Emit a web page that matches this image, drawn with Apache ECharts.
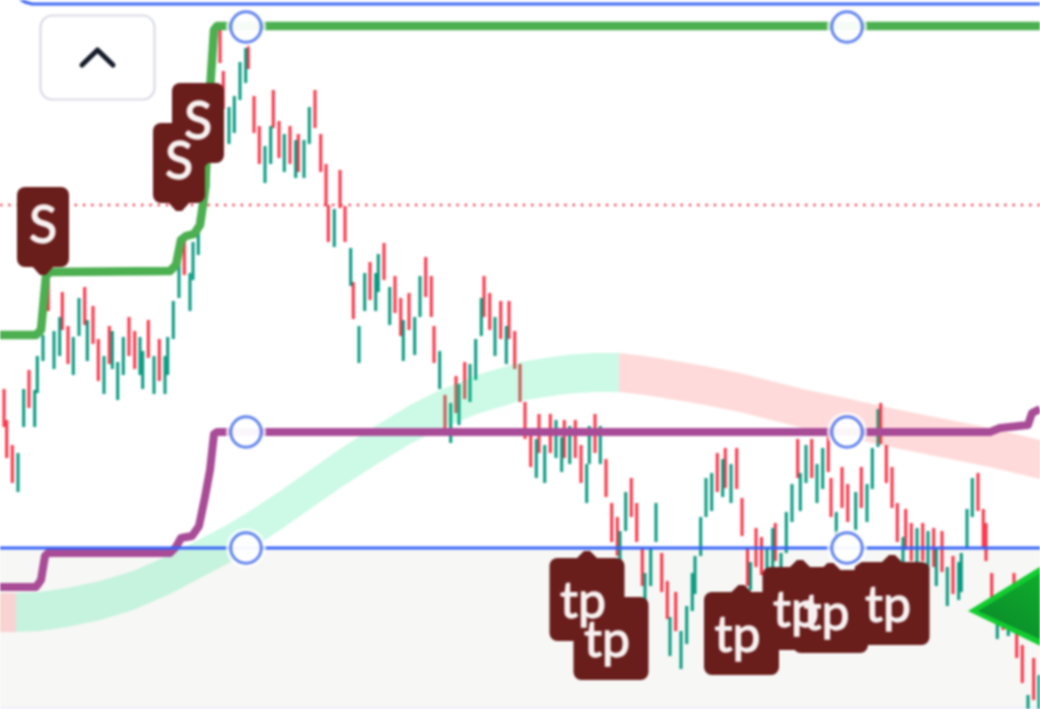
<!DOCTYPE html>
<html><head><meta charset="utf-8">
<style>html,body{margin:0;padding:0;background:#fff;overflow:hidden}#c{width:1040px;height:709px;filter:blur(1px)}</style>
<script src="https://cdn.jsdelivr.net/npm/echarts@6/dist/echarts.min.js"></script>
</head><body><div id="c"></div>
<script>
// Each candle row: time, top of range, bottom of range (axis runs downward, as in the picture)
const downBars=[[4,389,427],[6.7,420,458],[12.3,445,483],[29,370,408],[48.3,277,311],[62.3,292,330],[68,326,364],[84.7,287,325],[93,306,344],[98.3,339,381],[109.3,326,364],[129,317,356],[134.7,331,369],[148.3,320,358],[159.3,339,381],[184.3,240,275],[220,28,63],[223.3,71,109],[248.3,45,69],[254,96,133],[259.3,126,164],[273.3,90,128],[279,121,158],[290,126,164],[298.3,134,172],[315,90,128],[320.7,134,172],[326,164,206],[328.3,205,242],[340,170,208],[345,206,242],[353.3,282,319],[370,262,300],[384,243,280],[395,276,313],[400.7,298,336],[409,293,330],[425.7,257,297],[431.3,276,317],[434,326,363],[445,395,433],[456,376,413],[464.7,362,399],[484,276,317],[489.7,293,330],[500.7,301,339],[509,301,339],[514.7,331,369],[520,364,402],[525,402,439],[530.7,436,467],[539,414,453],[550.3,414,453],[564.3,420,458],[575.3,420,458],[581,445,483],[595,414,453],[606,459,497],[611.7,503,542],[617.3,517,556],[631.3,478,517],[636.7,503,542],[642.3,548,586],[661.7,553,592],[667.3,581,619],[675.7,592,631],[717.3,453,492],[725.3,448,488],[736.7,448,489],[742,498,536],[747.5,548,586],[756,528,567],[761.5,537,575],[775.3,523,561],[797.7,439,478],[811.7,439,478],[828.3,428,472],[831,478,517],[842,467,508],[847.7,484,522],[861.3,467,508],[880.7,403,444],[886.3,445,483],[892,467,508],[897.3,503,542],[905.7,509,550],[911.3,523,561],[922.7,523,561],[933.7,528,567],[942,531,572],[953,556,594],[978,473,511],[983.3,509,547],[986,523,561],[991.7,573,611],[1003,610,630],[1014,573,610],[1016.7,612,658],[1022.3,645,683],[1033.7,658,700]];
const upBars=[[18,453,492],[23.7,389,427],[34.7,390,427],[37.3,356,393],[43,335,361],[54,331,369],[59.7,317,356],[73.3,337,375],[79,298,336],[87.3,320,361],[104,356,394],[112.3,331,369],[117.7,362,400],[123.3,337,375],[140,337,375],[142.7,351,389],[154,356,394],[165,356,394],[167.7,337,375],[173.3,301,339],[179,262,298],[190,273,311],[193,242,280],[198.3,217,255],[208,150,188],[229,107,144],[234.3,96,133],[240,62,100],[245.7,48,83],[265,146,183],[270.7,126,164],[284.3,134,172],[295.7,140,178],[304,140,178],[309.3,107,144],[334.3,209,247],[350.7,248,286],[359,326,363],[364.7,273,311],[375.7,273,311],[378.3,254,292],[389.7,287,325],[403.3,320,361],[414.7,317,355],[420,276,317],[439.7,351,389],[450.7,403,443],[459,384,425],[470,364,402],[475.7,339,380],[481.3,298,336],[495,317,356],[506.3,326,364],[536.3,439,478],[544.7,445,483],[556,420,458],[561.7,437,472],[569.7,426,464],[586.7,464,503],[589.3,426,464],[600.3,426,464],[620,531,570],[625.7,492,531],[645,573,612],[650.7,548,586],[656,503,542],[670,617,656],[681,631,669],[686.7,606,644],[692.3,573,611],[695,556,594],[700.7,517,556],[706,478,517],[711.7,473,511],[722.7,459,497],[731,464,503],[750.5,562,590],[767,548,578],[772.7,528,567],[781,553,580],[786.3,512,553],[792,484,522],[800.3,473,511],[806,445,483],[817,464,503],[822.7,448,489],[836.3,512,550],[855.7,492,530],[867,484,522],[872.3,448,489],[878,409,447],[903,537,570],[917,528,567],[928,531,570],[936.3,547,586],[947.3,567,606],[958.7,562,600],[961.3,553,592],[967,509,547],[972.3,478,517],[997.3,610,639],[1008.3,617,636],[1028,695,712],[1039,675,715]];
// Stepped indicator lines
const greenLine=[[0,335],[36,335],[41,330],[46,276],[50,272],[170,271],[176,265],[181,240],[186,236],[194,234],[200,225],[205,190],[210,90],[214,30],[217,26],[1040,26]];
const purpleLine=[[0,587],[36,587],[41,580],[45,556],[48,553],[170,553],[176,547],[181,538],[192,536],[199,526],[205,497],[210,470],[214,434],[217,432],[990,432],[1000,428],[1028,425],[1032,413],[1040,409]];
const levels=[548];
const dottedLevel=[205];
// Ribbon moving-average band: upper edge readings, and band height
const ribbonBull=[[16,593],[40,592],[67,588],[100,581],[133,571],[170,555],[200,539],[225,526],[250,511],[280,491],[310,470],[340,449],[377,425],[410,405],[440,390],[477,375],[520,362],[545,358],[570,354.5],[595,353],[619,353]];
const ribbonBear=[[619,353],[645,356],[670,360],[705,366],[740,373],[775,382],[807,390],[850,399],[890,408],[940,418],[990,428],[1040,440]];
const ribbonBearLeft=[[0,593],[16,593]];
const ribbonHeight=39;
// Signal flags: time, tip level, text
const sellFlags=[[198,173,'S'],[179,213,'S'],[43,277,'S']];
const tpFlags=[[587,549,'tp'],[611,588,'tp'],[741.5,583,'tp'],[800,558,'tp'],[830.5,561,'tp'],[892,553,'tp']];
const handleX=[246,847];
const handleY=[27,432,548];
const triangleOuter=[[968,611],[1090,536],[1090,670]];
const triangleInner=[[978,611],[1090,543],[1090,662]];
const FLOOR=707;

const DARK='#6a1e1c';
function bars(color){
  return (p,api)=>{
    const a=api.coord([api.value(0),api.value(1)]),b=api.coord([api.value(0),api.value(2)]);
    return {type:'rect',shape:{x:a[0]-1.5,y:a[1],width:3,height:b[1]-a[1]},style:{fill:color}};
  };
}
function band(pts,color){
  return {type:'custom',coordinateSystem:'cartesian2d',z:3,silent:true,data:[0],
    renderItem:(p,api)=>{
      const up=pts.map(d=>api.coord(d));
      const lo=pts.slice().reverse().map(d=>api.coord([d[0],d[1]+ribbonHeight]));
      return {type:'polygon',shape:{points:up.concat(lo)},style:{fill:color}};
    }};
}
function flag(down){
  return (p,api)=>{
    const c=api.coord([api.value(0),api.value(1)]);
    const x=c[0],y=c[1],txt=api.value(2);
    const w=down?52:75,h=down?80:83,gap=down?-10:9;
    const ry=down?y+gap-h:y+gap;
    const tipDir=down?1:-1,base=down?ry+h-1:ry+1;
    return {type:'group',children:[
      {type:'rect',shape:{x:x-w/2,y:ry,width:w,height:h,r:8},style:{fill:DARK},z2:1},
      {type:'polygon',shape:{points:[[x-11,base],[x-3,y-tipDir*2],[x+3,y-tipDir*2],[x+11,base]]},style:{fill:DARK},z2:1},
      {type:'text',x:down?x:x-4,y:down?y-51:y+53,z2:5,style:{text:txt,fill:'#f6f1f0',stroke:'#f6f1f0',lineWidth:1.3,font:down?'52px Lato':'50px Lato',align:'center',verticalAlign:'middle'}}
    ]};
  };
}
const chart=echarts.init(document.getElementById('c'),null,{renderer:'canvas'});
const line=(data,color,width,z,extra)=>Object.assign({type:'line',data,symbol:'none',z,silent:true,
  lineStyle:Object.assign({color,width,join:'round',cap:'butt'},extra||{})});
const lv=(y)=>[[0,y],[1040,y]];
chart.setOption({
  animation:false,
  backgroundColor:'#fff',
  tooltip:{show:false},
  grid:{left:0,right:0,top:0,bottom:0},
  xAxis:{type:'value',min:0,max:1040,show:false},
  yAxis:{type:'value',min:0,max:709,inverse:true,show:false},
  graphic:[
    {type:'rect',z:1,shape:{x:40.5,y:15.5,width:114,height:84,r:12},style:{fill:'#fff',stroke:'#d9dbe6',lineWidth:2.2}},
    {type:'polyline',z:1,shape:{points:[[82,65],[97.5,50],[113,65]]},style:{fill:'none',stroke:'#151b28',lineWidth:5,lineCap:'round',lineJoin:'round'}},
    {type:'polyline',z:1,shape:{points:[[20,-1],[25,2],[32,4],[1042,4]]},style:{fill:'none',stroke:'#3f68f2',lineWidth:3}},
    {type:'rect',z:1,shape:{x:0,y:707,width:1040,height:2},style:{fill:'#efeef9'}}
  ],
  series:[
    {type:'custom',z:0,silent:true,data:[[levels[0],FLOOR]],
      renderItem:(p,api)=>{const a=api.coord([0,api.value(0)]),b=api.coord([1040,api.value(1)]);
        return {type:'rect',shape:{x:a[0],y:a[1],width:b[0]-a[0],height:b[1]-a[1]},style:{fill:'#f7f7f5'}};}},
    {type:'custom',z:1,silent:true,data:dottedLevel.map(v=>[v]),
      renderItem:(p,api)=>{const a=api.coord([0,api.value(0)]),b=api.coord([1040,api.value(0)]);
        return {type:'line',shape:{x1:a[0],y1:a[1],x2:b[0],y2:b[1]},style:{stroke:'#f23a4a',lineWidth:2.4,lineDash:[2.2,6.1]}};}},
    {type:'custom',z:2,silent:true,data:downBars,renderItem:bars('#fb3347')},
    {type:'custom',z:2,silent:true,data:upBars,renderItem:bars('#069a80')},
    band(ribbonBull,'rgba(0,230,130,0.2)'),
    band(ribbonBear,'rgba(255,70,70,0.2)'),
    band(ribbonBearLeft,'rgba(255,70,70,0.2)'),
    line(purpleLine,'#a94c97',8,4),
    line(lv(levels[0]),'#3462f8',3.2,4),
    line(greenLine,'#4caf50',8.5,4),
    {type:'custom',z:5,silent:true,data:sellFlags,encode:{x:0,y:1},renderItem:flag(true)},
    {type:'custom',z:5,silent:true,data:tpFlags,encode:{x:0,y:1},renderItem:flag(false)},
    {type:'custom',z:6,silent:true,data:[0],renderItem:(p,api)=>({type:'group',children:[
      {type:'polygon',shape:{points:triangleOuter.map(d=>api.coord(d))},style:{fill:'#12cc30'}},
      {type:'polygon',shape:{points:triangleInner.map(d=>api.coord(d))},style:{fill:new echarts.graphic.LinearGradient(0,1,0.6,0,[{offset:0,color:'#0a7f2a'},{offset:1,color:'#10b82c'}])}}
    ]})},
    {type:'scatter',z:7,silent:true,symbolSize:40,itemStyle:{color:'rgba(255,255,255,0.92)'},
      data:handleX.flatMap(x=>handleY.map(y=>[x,y]))},
    {type:'scatter',z:8,silent:true,symbolSize:30.5,itemStyle:{color:'#fff',borderColor:'#3c66ea',borderWidth:3},
      data:handleX.flatMap(x=>handleY.map(y=>[x,y]))}
  ]
});
</script></body></html>
